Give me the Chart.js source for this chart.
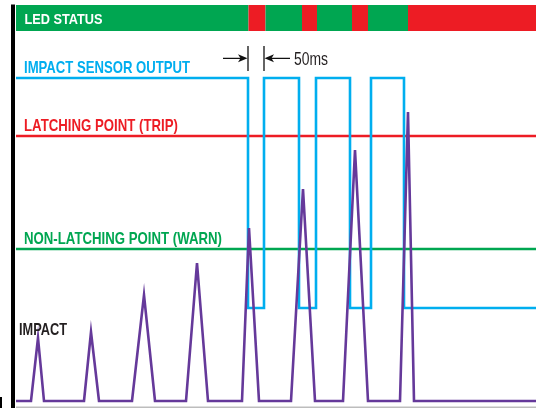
<!DOCTYPE html>
<html><head><meta charset="utf-8">
<script src="https://cdn.jsdelivr.net/npm/chart.js@4.4.1/dist/chart.umd.min.js"></script>
<style>html,body{margin:0;padding:0;background:#fff;overflow:hidden}canvas{display:block}</style>
</head><body>
<canvas id="c" width="536" height="408"></canvas>
<script>
// ---- data (time in arbitrary units from the left axis, level in arbitrary signal units) ----
const impactTimes  = [0, 15, 22, 28, 68, 75, 83, 116, 128, 139, 170, 181, 192, 226, 233, 243, 275, 287, 299, 327, 339, 352, 384, 392, 398, 520];
const impactValues = [0, 0, 63, 0, 0, 69, 0, 0, 106, 0, 0, 138, 0, 0, 173, 0, 0, 212, 0, 0, 251, 0, 0, 289, 0, 0];
const sensorTimes  = [0, 232, 248, 283, 300, 334, 355, 388, 520];
const sensorLevels = [323, 93, 323, 93, 323, 93, 323, 93, 93];
const tripLevel = 265;
const warnLevel = 152;
const ledTimes  = [0, 232.5, 249.5, 286, 301, 336, 352, 392, 520];
const ledStates = ['OK', 'TRIP', 'OK', 'TRIP', 'OK', 'TRIP', 'OK', 'TRIP'];
const ledLevel = 383;
const pulseGapLabel = '50ms';
const labels = {
  led: 'LED STATUS',
  sensor: 'IMPACT SENSOR OUTPUT',
  trip: 'LATCHING POINT (TRIP)',
  warn: 'NON-LATCHING POINT (WARN)',
  impact: 'IMPACT'
};

// ---- styles ----
const C = {
  blue: '#00AEEF', red: '#ED1C24', green: '#00A651', purple: '#65399A',
  ledGreen: '#00A651', ledRed: '#ED1C24', black: '#1A1A1A'
};
const FONT = "'Liberation Sans',Arial,Helvetica,sans-serif";

const pts = (xs, ys) => xs.map((x, i) => ({x, y: ys[i]}));
const t0 = impactTimes[0], t1 = impactTimes[impactTimes.length - 1];

const deco = {
  id: 'deco',
  beforeDatasetsDraw(chart) {
    const {ctx} = chart, xs = chart.scales.x;
    const x0 = xs.getPixelForValue(t0), x1 = xs.getPixelForValue(t1);
    ctx.save();
    ctx.strokeStyle = '#BDBDBD'; ctx.lineWidth = 1.5;
    ctx.beginPath(); ctx.moveTo(x0, 407.2); ctx.lineTo(x1, 407.2); ctx.stroke();
    ctx.restore();
  },
  afterDatasetsDraw(chart) {
    const {ctx} = chart, xs = chart.scales.x, ys = chart.scales.y;
    const x0 = xs.getPixelForValue(t0);
    ctx.save();
    // left axis
    ctx.fillStyle = '#000';
    ctx.fillRect(x0 - 5, 4.5, 4, 404);
    ctx.fillRect(0, 397, 2, 11);

    ctx.textBaseline = 'alphabetic';
    const txt = (s, x, y, col, font, maxW) => { ctx.fillStyle = col; ctx.font = font; ctx.fillText(s, x, y, maxW); };
    const ledY = ys.getPixelForValue(ledLevel);
    txt(labels.led, x0 + 8.5, ledY + 5.5, '#fff', 'bold 15.5px ' + FONT, 78);
    txt(labels.sensor, x0 + 8, ys.getPixelForValue(sensorLevels[0]) - 5, C.blue, 'bold 17px ' + FONT, 166);
    txt(labels.trip, x0 + 8, ys.getPixelForValue(tripLevel) - 5, C.red, 'bold 17px ' + FONT, 154);
    txt(labels.warn, x0 + 8, ys.getPixelForValue(warnLevel) - 5, C.green, 'bold 17px ' + FONT, 198);
    txt(labels.impact, x0 + 3, 335, '#231F20', 'bold 16.5px ' + FONT, 48);

    // 50ms annotation across the first low pulse of the sensor output
    const a = xs.getPixelForValue(sensorTimes[1]), b = xs.getPixelForValue(sensorTimes[2]);
    const yTop = 46, yBot = 71, yA = 58.3;
    ctx.strokeStyle = '#111'; ctx.fillStyle = '#111'; ctx.lineWidth = 1.3;
    ctx.beginPath();
    ctx.moveTo(a, yTop); ctx.lineTo(a, yBot);
    ctx.moveTo(b, yTop); ctx.lineTo(b, yBot);
    ctx.moveTo(a - 25, yA); ctx.lineTo(a - 6, yA);
    ctx.moveTo(b + 6, yA); ctx.lineTo(b + 26, yA);
    ctx.stroke();
    ctx.beginPath();
    ctx.moveTo(a - 0.5, yA); ctx.lineTo(a - 10, yA - 4); ctx.lineTo(a - 7.5, yA); ctx.lineTo(a - 10, yA + 4); ctx.closePath();
    ctx.moveTo(b + 0.5, yA); ctx.lineTo(b + 10, yA - 4); ctx.lineTo(b + 7.5, yA); ctx.lineTo(b + 10, yA + 4); ctx.closePath();
    ctx.fill();
    txt(pulseGapLabel, b + 30, 65, '#231F20', '17.5px ' + FONT, 34);
    ctx.restore();
  }
};

new Chart(document.getElementById('c'), {
  type: 'line',
  data: {
    datasets: [
      { label: 'Impact', data: pts(impactTimes, impactValues), borderColor: C.purple, borderWidth: 2.6, order: 0 },
      { label: 'Sensor output', data: pts(sensorTimes, sensorLevels), stepped: 'before', borderColor: C.blue, borderWidth: 2.6, order: 1 },
      { label: 'Trip', data: pts([t0, t1], [tripLevel, tripLevel]), borderColor: C.red, borderWidth: 2.6, order: 2 },
      { label: 'Warn', data: pts([t0, t1], [warnLevel, warnLevel]), borderColor: C.green, borderWidth: 2.6, order: 3 },
      { label: 'LED', data: pts(ledTimes, ledTimes.map(() => ledLevel)), borderWidth: 26, borderCapStyle: 'butt', order: 4,
        borderColor: C.ledGreen,
        segment: { borderColor: c => ledStates[c.p0DataIndex] === 'TRIP' ? C.ledRed : C.ledGreen } }
    ]
  },
  options: {
    responsive: false, animation: false, devicePixelRatio: 1,
    layout: { padding: 0 },
    elements: { point: { radius: 0, hoverRadius: 0 }, line: { tension: 0, borderJoinStyle: 'miter' } },
    scales: {
      x: { type: 'linear', min: -16, max: 520, display: false },
      y: { type: 'linear', min: -7, max: 401, display: false }
    },
    plugins: { legend: { display: false }, tooltip: { enabled: false } },
    events: []
  },
  plugins: [deco]
});
</script>
</body></html>
